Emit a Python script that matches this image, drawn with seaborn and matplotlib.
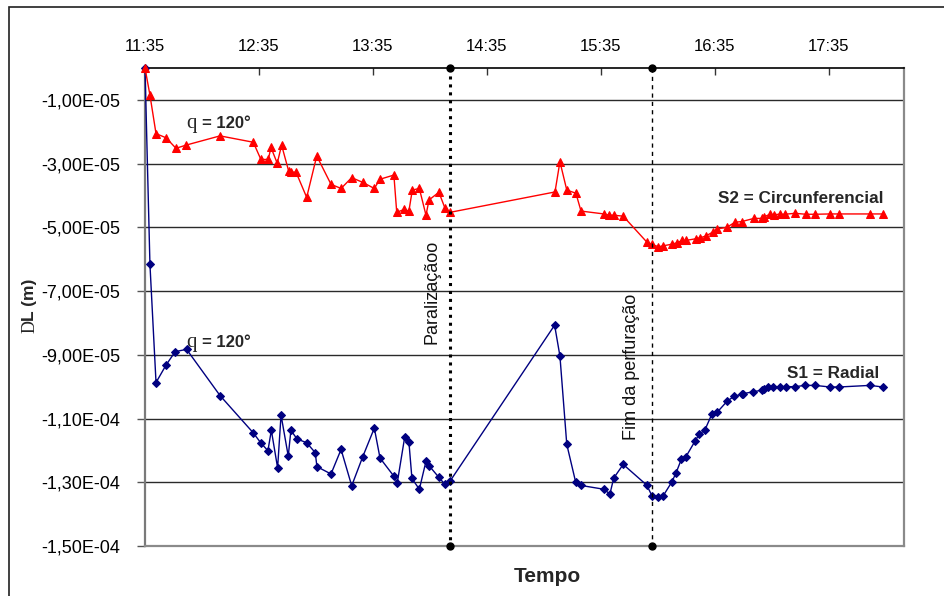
import matplotlib
matplotlib.use("Agg")
import matplotlib.pyplot as plt
import matplotlib.patches as mpatches
import pandas as pd
import seaborn as sns
from matplotlib.ticker import FixedLocator, FuncFormatter

# Elapsed time (minutes after 11:35) and displacement DL (m) for each extensometer
radial_min = [0, 2.6, 5.8, 11.1, 15.9, 21.9, 39.5, 57.0, 60.9, 64.7, 66.5, 69.8, 71.6, 75.4,
              76.8, 80.0, 85.1, 89.6, 90.5, 97.9, 103.2, 108.8, 114.6, 120.7, 123.7, 131.0,
              132.8, 136.7, 138.9, 140.5, 144.4, 147.9, 149.5, 154.6, 157.9, 160.5, 215.6,
              218.4, 222.0, 226.7, 229.5, 241.6, 244.7, 246.7, 251.7, 264.1, 266.8, 270.2,
              272.8, 277.2, 279.5, 282.3, 284.7, 289.5, 291.6, 294.7, 298.3, 301.2, 306.5,
              310.2, 314.1, 314.7, 320.2, 324.6, 325.8, 328.1, 330.4, 334.2, 337.4, 342.1,
              347.4, 352.6, 360.5, 365.4, 381.6, 388.3]
radial_dl = [0, -6.16e-05, -9.87e-05, -9.32e-05, -8.90e-05, -8.83e-05, -1.028e-04, -1.145e-04,
             -1.176e-04, -1.201e-04, -1.137e-04, -1.255e-04, -1.089e-04, -1.218e-04, -1.137e-04,
             -1.164e-04, -1.176e-04, -1.207e-04, -1.251e-04, -1.274e-04, -1.197e-04, -1.311e-04,
             -1.220e-04, -1.130e-04, -1.224e-04, -1.281e-04, -1.301e-04, -1.158e-04, -1.173e-04,
             -1.288e-04, -1.322e-04, -1.234e-04, -1.248e-04, -1.284e-04, -1.307e-04, -1.297e-04,
             -8.07e-05, -9.04e-05, -1.181e-04, -1.300e-04, -1.310e-04, -1.322e-04, -1.337e-04,
             -1.287e-04, -1.244e-04, -1.309e-04, -1.342e-04, -1.346e-04, -1.342e-04, -1.300e-04,
             -1.271e-04, -1.228e-04, -1.220e-04, -1.171e-04, -1.150e-04, -1.136e-04, -1.087e-04,
             -1.080e-04, -1.045e-04, -1.030e-04, -1.024e-04, -1.022e-04, -1.016e-04, -1.011e-04,
             -1.008e-04, -1.000e-04, -1.000e-04, -1.000e-04, -1.000e-04, -1.000e-04, -9.96e-05,
             -9.96e-05, -1.001e-04, -1.001e-04, -9.96e-05, -1.001e-04]

circ_min = [0, 2.6, 5.8, 11.1, 16.3, 21.6, 39.5, 57.0, 61.0, 64.9, 66.3, 69.6, 71.9, 75.6,
            76.8, 79.5, 85.1, 90.4, 97.9, 103.2, 108.8, 114.6, 120.7, 123.7, 131.0, 132.5,
            136.3, 138.9, 140.7, 144.4, 147.9, 149.5, 154.7, 157.9, 160.5, 215.8, 218.4, 222.0,
            226.8, 229.5, 241.6, 244.4, 246.8, 251.7, 264.1, 266.7, 270.2, 272.8, 277.2, 279.8,
            282.8, 284.7, 289.8, 292.1, 295.3, 298.8, 301.2, 306.3, 310.5, 314.0, 320.5, 324.6,
            325.9, 328.9, 331.0, 334.2, 336.8, 342.1, 347.9, 352.6, 360.5, 365.4, 381.6, 388.3]
circ_dl = [0, -8.5e-06, -2.06e-05, -2.19e-05, -2.52e-05, -2.42e-05, -2.13e-05, -2.33e-05,
           -2.87e-05, -2.87e-05, -2.49e-05, -2.99e-05, -2.42e-05, -3.23e-05, -3.27e-05,
           -3.27e-05, -4.06e-05, -2.76e-05, -3.65e-05, -3.78e-05, -3.44e-05, -3.59e-05,
           -3.78e-05, -3.49e-05, -3.36e-05, -4.53e-05, -4.44e-05, -4.49e-05, -3.83e-05,
           -3.78e-05, -4.62e-05, -4.14e-05, -3.90e-05, -4.40e-05, -4.53e-05, -3.89e-05,
           -2.94e-05, -3.83e-05, -3.93e-05, -4.49e-05, -4.58e-05, -4.62e-05, -4.62e-05,
           -4.65e-05, -5.46e-05, -5.53e-05, -5.61e-05, -5.58e-05, -5.53e-05, -5.49e-05,
           -5.41e-05, -5.41e-05, -5.36e-05, -5.33e-05, -5.27e-05, -5.15e-05, -5.05e-05,
           -5.00e-05, -4.84e-05, -4.82e-05, -4.72e-05, -4.72e-05, -4.67e-05, -4.59e-05,
           -4.60e-05, -4.59e-05, -4.59e-05, -4.56e-05, -4.59e-05, -4.59e-05, -4.58e-05,
           -4.58e-05, -4.58e-05, -4.58e-05]

# Events (minutes after 11:35)
event_min = [160.5, 266.8]
event_labels = ["Paralizaçãoo", "Fim da perfuração"]

start_hour, start_minute = 11, 35
x_tick_min = [0, 60, 120, 180, 240, 300, 360]
y_ticks = [-1e-05, -3e-05, -5e-05, -7e-05, -9e-05, -1.1e-04, -1.3e-04, -1.5e-04]

sns.set_theme(style="white")
plt.rcParams["font.family"] = ["Liberation Sans", "DejaVu Sans"]

W, H = 945, 596
fig = plt.figure(figsize=(W / 100, H / 100), dpi=100)
fig.patch.set_facecolor("white")

# outer chart frame
fig.patches.append(mpatches.Rectangle((9 / W, -0.5), 2.0, 1.5 - 7 / H, transform=fig.transFigure,
                                      fill=False, edgecolor="#202020", lw=1.2))

L, R, T, B = 145, 904, 68, 546
ax = fig.add_axes([L / W, 1 - B / H, (R - L) / W, (B - T) / H])
ax.set_facecolor("white")

radial = pd.DataFrame({"t": radial_min, "dl": radial_dl})
circ = pd.DataFrame({"t": circ_min, "dl": circ_dl})

sns.lineplot(data=radial, x="t", y="dl", ax=ax, sort=False, estimator=None, color="#000080",
             lw=1, marker="D", markersize=4.3, markeredgecolor="#000080", zorder=4, clip_on=False)
sns.lineplot(data=circ, x="t", y="dl", ax=ax, sort=False, estimator=None, color="#FF0000",
             lw=1, marker="^", markersize=6, markeredgecolor="#FF0000", zorder=5, clip_on=False)

ax.set_xlim(0, 399.5)
ax.set_ylim(-1.5e-04, 0)

# event markers
styles = [dict(ls=(0, (1, 1.6)), lw=2.2), dict(ls=(0, (3, 3)), lw=1.0)]
for t, st in zip(event_min, styles):
    ax.plot([t, t], [0, -1.5e-04], color="black", zorder=6, clip_on=False, **st)
    ax.plot([t, t], [0, -1.5e-04], ls="none", marker="o", ms=5, color="black", zorder=7,
            clip_on=False)

ax.text(151, -7.03e-05, event_labels[0], rotation=90, ha="center", va="center", fontsize=13,
        color="#111111")
ax.text(256.3, -9.39e-05, event_labels[1], rotation=90, ha="center", va="center", fontsize=13,
        color="#111111")

# axes styling
ax.xaxis.tick_top()
ax.xaxis.set_major_locator(FixedLocator(x_tick_min))
ax.xaxis.set_major_formatter(FuncFormatter(
    lambda v, p: f"{start_hour + int(start_minute + v) // 60}:{int(start_minute + v) % 60:02d}"))
ax.tick_params(axis="x", direction="in", length=5, width=1, pad=10, labelsize=12,
               top=True, bottom=False, colors="#333333", labelcolor="black")
ax.yaxis.set_major_locator(FixedLocator(y_ticks))
ax.yaxis.set_major_formatter(FuncFormatter(lambda v, p: f"{v:.2E}".replace(".", ",")))
ax.tick_params(axis="y", direction="out", length=6, width=1, pad=12, labelsize=13,
               left=True, colors="#555555", labelcolor="black")
ax.yaxis.grid(True, color="#2a2a2a", lw=1)
ax.xaxis.grid(False)
ax.set_xlabel("")
ax.set_ylabel("")
for side, c, w in [("top", "black", 1.2), ("left", "#7a7a7a", 1.6), ("bottom", "#8a8a8a", 1.6),
                   ("right", "#8a8a8a", 1.6)]:
    ax.spines[side].set_color(c)
    ax.spines[side].set_linewidth(w)
    ax.spines[side].set_visible(True)

# annotations
for yv in [-1.727e-05, -8.60e-05]:
    ax.text(21.6, yv, "q", fontsize=15, family="Liberation Serif", ha="left", va="center")
    ax.text(29.8, yv, "= 120°", fontsize=12, fontweight="bold", ha="left", va="center")
ax.text(301.6, -4.11e-05, "S2 = Circunferencial", fontsize=12.3, fontweight="bold",
        ha="left", va="center")
ax.text(337.9, -9.58e-05, "S1 = Radial", fontsize=12.3, fontweight="bold", ha="left",
        va="center")

fig.text(547 / W, 1 - 576 / H, "Tempo", fontsize=15, fontweight="bold", ha="center",
         va="center")
fig.text(30 / W, 1 - 333 / H, "D", fontsize=13, family="Liberation Serif", rotation=90,
         ha="center", va="bottom")
fig.text(30 / W, 1 - 321 / H, "L (m)", fontsize=12.5, fontweight="bold", rotation=90,
         ha="center", va="bottom")

fig.savefig("out.png", dpi=100, facecolor="white")
